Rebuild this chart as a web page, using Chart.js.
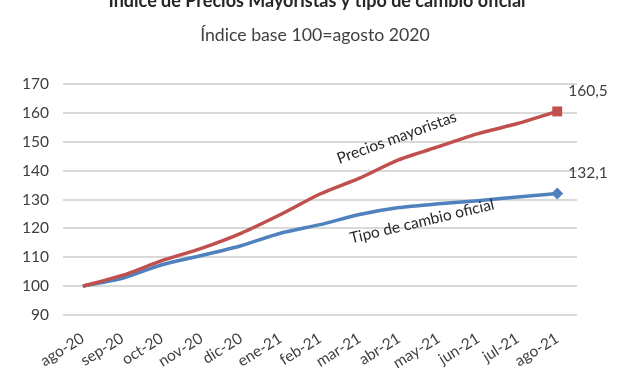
<!DOCTYPE html>
<html>
<head>
<meta charset="utf-8">
<script src="https://cdn.jsdelivr.net/npm/chart.js@4/dist/chart.umd.min.js"></script>
<style>
  html, body { margin: 0; padding: 0; background: #fff; }
  #wrap { position: relative; width: 635px; height: 375px; }
</style>
</head>
<body>
<div id="wrap"><canvas id="chart" width="635" height="375"></canvas></div>
<script>
const months = ['ago-20', 'sep-20', 'oct-20', 'nov-20', 'dic-20', 'ene-21', 'feb-21',
    'mar-21', 'abr-21', 'may-21', 'jun-21', 'jul-21', 'ago-21'];
const preciosMayoristas = [100, 103.7, 108.8, 113.1, 118.3, 124.8, 131.9, 137.4, 143.8, 148.3, 152.8, 156.3, 160.5];
const tipoCambio = [100, 102.7, 107.4, 110.6, 114, 118.3, 121.3, 124.8, 127.2, 128.5, 129.6, 130.9, 132.1];
const yTicks = [90, 100, 110, 120, 130, 140, 150, 160, 170];

const titleText = 'Índice de Precios Mayoristas y tipo de cambio oficial';
const subtitleText = 'Índice base 100=agosto 2020';
const endLabels = ['160,5', '132,1'];

const FONT = 'Lato, "Open Sans", sans-serif';

// last point only gets a marker
const markerRadius = (arr, r) => arr.map((v, i) => (i === arr.length - 1 ? r : 0));

// titles, line names and end values drawn on the canvas
const textPlugin = {
    id: 'texts',
    afterDatasetsDraw(chart) {
        const ctx = chart.ctx;
        const x = chart.scales.x;
        const y = chart.scales.y;
        ctx.save();
        ctx.textAlign = 'center';
        ctx.textBaseline = 'alphabetic';

        ctx.fillStyle = '#262626';
        ctx.font = `bold 18px ${FONT}`;
        ctx.fillText(titleText, 317, 7);

        ctx.fillStyle = '#404040';
        ctx.font = `17.7px ${FONT}`;
        ctx.fillText(subtitleText, 315, 41);

        // series names along the lines
        ctx.fillStyle = '#262626';
        ctx.font = `15.5px ${FONT}`;
        const names = [
            { text: 'Precios mayoristas', i: 7.94, v: 151.4, a: -20 },
            { text: 'Tipo de cambio oficial', i: 8.58, v: 122.4, a: -13.5 }
        ];
        names.forEach(n => {
            ctx.save();
            ctx.translate(x.getPixelForValue(n.i), y.getPixelForValue(n.v));
            ctx.rotate(n.a * Math.PI / 180);
            ctx.textBaseline = 'middle';
            ctx.fillText(n.text, 0, 0);
            ctx.restore();
        });

        // end values
        ctx.fillStyle = '#404040';
        ctx.font = `15.5px ${FONT}`;
        ctx.textAlign = 'left';
        chart.data.datasets.forEach((ds, d) => {
            const pts = chart.getDatasetMeta(d).data;
            const p = pts[pts.length - 1];
            ctx.fillText(endLabels[d], p.x + 11, p.y - 15);
        });
        ctx.restore();
    }
};

new Chart(document.getElementById('chart'), {
    type: 'line',
    data: {
        labels: months,
        datasets: [{
            label: 'Precios mayoristas',
            data: preciosMayoristas,
            borderColor: '#c0504d',
            backgroundColor: '#c0504d',
            borderWidth: 3.5,
            tension: 0.25,
            pointStyle: 'rect',
            pointRadius: markerRadius(preciosMayoristas, 7),
            pointBorderWidth: 0
        }, {
            label: 'Tipo de cambio oficial',
            data: tipoCambio,
            borderColor: '#4f81bd',
            backgroundColor: '#4f81bd',
            borderWidth: 3.5,
            tension: 0.25,
            pointStyle: 'rectRot',
            pointRadius: markerRadius(tipoCambio, 6),
            pointBorderWidth: 0
        }]
    },
    options: {
        responsive: false,
        animation: false,
        layout: { padding: { top: 84, right: 58, left: 0, bottom: 0 } },
        plugins: {
            legend: { display: false },
            tooltip: { enabled: false }
        },
        scales: {
            x: {
                offset: true,
                grid: { display: false },
                border: { display: false },
                ticks: {
                    color: '#404040',
                    font: { family: FONT, size: 15.5 },
                    minRotation: 32,
                    maxRotation: 32,
                    autoSkip: false,
                    padding: 6
                },
                afterFit: s => { s.height = 60; }
            },
            y: {
                min: 90,
                max: 170,
                afterBuildTicks: s => { s.ticks = yTicks.map(v => ({ value: v })); },
                grid: { color: '#d9d9d9', lineWidth: 2, drawTicks: false },
                border: { display: false },
                ticks: {
                    color: '#404040',
                    font: { family: FONT, size: 15.5 },
                    padding: 14
                },
                afterFit: s => { s.width = 63; }
            }
        }
    },
    plugins: [textPlugin]
});
</script>
</body>
</html>
